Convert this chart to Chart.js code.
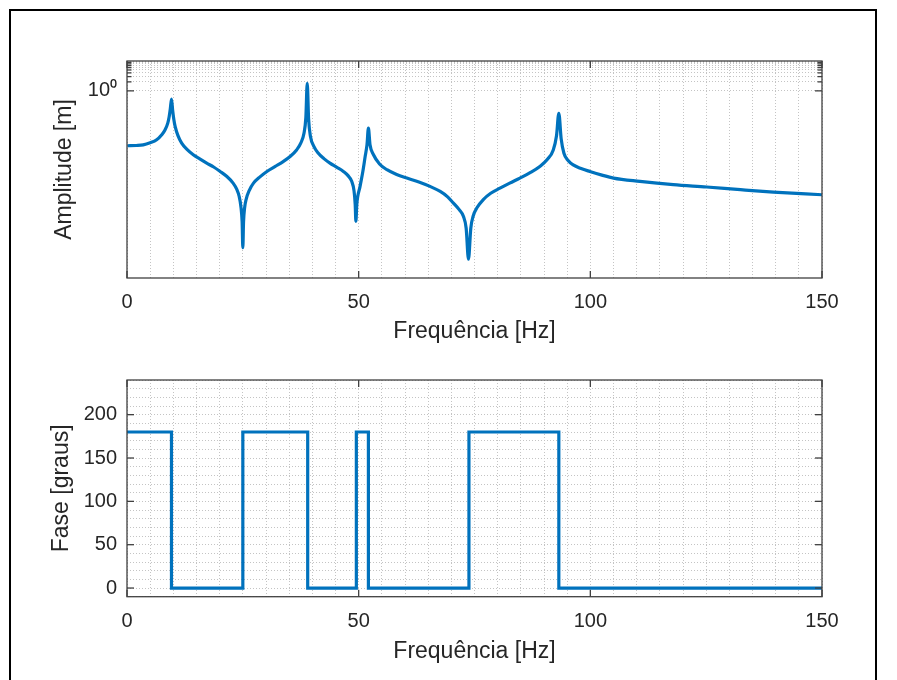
<!DOCTYPE html>
<html><head><meta charset="utf-8">
<script src="https://cdn.jsdelivr.net/npm/chart.js@4/dist/chart.umd.min.js"></script>
<style>
html,body{margin:0;padding:0;background:#fff;}
#wrap{position:relative;width:897px;height:680px;overflow:hidden;background:#fff;}
#frame{position:absolute;left:9px;top:9px;width:868px;height:800px;border:2px solid #000;box-sizing:border-box;}
canvas{position:absolute;left:0;}
</style></head><body>
<div id="wrap"><div id="frame"></div>
<canvas id="c1" style="top:0;width:897px;height:345px"></canvas>
<canvas id="c2" style="top:345px;width:897px;height:320px"></canvas>
</div>
<script>
// ---------- data ----------
const ampFreq = [0.1, 2.0, 3.5, 5.0, 6.4, 7.5, 8.2, 8.8, 9.1, 9.35, 9.6,
  9.85, 10.1, 10.4, 11.0, 11.8, 13.0, 14.3, 15.7, 17.2, 18.7, 20.1, 21.5, 22.9, 23.7, 24.2, 24.6, 24.85, 25.0,
  25.15, 25.4, 25.7, 26.4, 27.3, 28.7, 30.2, 32.0, 33.7, 35.2, 36.6, 37.5, 38.2, 38.6, 38.9,
  39.2, 39.6, 40.3, 41.3, 42.5, 43.8, 45.3, 46.7, 47.7, 48.5, 49.0, 49.25, 49.4,
  49.6, 50.3, 50.9, 51.4, 51.8, 52.1,
  52.45, 53.2, 54.5, 56.1, 58.2, 60.4, 63.0, 65.4, 67.6, 69.2, 70.4, 71.7, 72.6, 73.2, 73.7,
  74.2, 74.7, 75.6, 76.9, 78.5, 80.5, 82.6, 84.8, 87.0, 89.1, 90.7, 92.0, 92.7, 93.2,
  93.7, 94.3, 95.2, 96.3, 98.0, 99.9, 102.5, 105.0, 110.7, 117.9, 125.1, 132.4, 139.5, 150.0];
const ampValues = [1.45e-2, 1.48e-2, 1.55e-2, 1.82e-2, 2.29e-2, 3.39e-2, 4.9e-2, 8.3e-2, 0.135, 0.251, 0.525,
  0.224, 0.112, 6.31e-2, 3.16e-2, 1.78e-2, 1.07e-2, 7.24e-3, 5.25e-3, 3.8e-3, 2.82e-3, 2.0e-3, 1.38e-3, 8.13e-4, 5.01e-4, 2.95e-4, 1.26e-4, 3.98e-5, 5.62e-6,
  3.98e-5, 1.26e-4, 2.29e-4, 4.68e-4, 8.13e-4, 1.32e-3, 2.0e-3, 2.95e-3, 4.27e-3, 6.31e-3, 1.05e-2, 1.78e-2, 3.8e-2, 0.126, 1.78,
  0.112, 2.95e-2, 1.41e-2, 8.13e-3, 5.37e-3, 3.8e-3, 2.75e-3, 2.0e-3, 1.45e-3, 9.33e-4, 4.47e-4, 1.58e-4, 4.27e-5,
  1.58e-4, 6.31e-4, 2.0e-3, 6.31e-3, 1.58e-2, 5.62e-2,
  1.58e-2, 7.24e-3, 3.55e-3, 2.29e-3, 1.58e-3, 1.2e-3, 8.91e-4, 6.31e-4, 4.27e-4, 2.82e-4, 1.78e-4, 1.05e-4, 6.31e-5, 2.51e-5, 2.29e-6,
  2.51e-5, 6.31e-5, 1.26e-4, 2.29e-4, 3.72e-4, 5.5e-4, 8.13e-4, 1.2e-3, 1.82e-3, 2.95e-3, 5.01e-3, 1.05e-2, 3.16e-2, 0.178,
  2.51e-2, 8.13e-3, 4.68e-3, 3.31e-3, 2.51e-3, 2.0e-3, 1.51e-3, 1.2e-3, 9.33e-4, 7.24e-4, 6.03e-4, 4.9e-4, 4.07e-4, 3.31e-4];

const phaseFreq = [0, 9.6, 9.6, 25.0, 25.0, 39.0, 39.0, 49.5, 49.5, 52.1, 52.1, 73.8, 73.8, 93.2, 93.2, 150];
const phaseDeg  = [180, 180, 0, 0, 180, 180, 0, 0, 180, 180, 0, 0, 180, 180, 0, 0];

const xGridTicks = [0,5,10,15,20,25,30,35,40,45,50,55,60,65,70,75,80,85,90,95,100,105,110,115,120,125,130,135,140,145,150];
const xTickLabels = [0, 50, 100, 150];
const ampGridTicks = [1,2,3,4,5,6,7,8,9,10];
const ampTickLabels = [1];
const phaseGridTicks = [-10,0,10,20,30,40,50,60,70,80,90,100,110,120,130,140,150,160,170,180,190,200,210,220,230,240];
const phaseTickLabels = [0, 50, 100, 150, 200];

// ---------- styling ----------
const FONT = "'Liberation Sans', Arial, Helvetica, sans-serif";
const TXT = '#262626';
const GRID = '#c4c4c4';

const boxPlugin = {
  id: 'box',
  afterDatasetsDraw(chart, args, o) {
    const {ctx, chartArea: a, scales} = chart;
    ctx.save();
    ctx.strokeStyle = '#404040';
    ctx.lineWidth = 1.3;
    ctx.setLineDash([]);
    const tick = (x1, y1, x2, y2) => { ctx.beginPath(); ctx.moveTo(x1, y1); ctx.lineTo(x2, y2); ctx.stroke(); };
    (o.xMajor || []).forEach(v => {
      const x = scales.x.getPixelForValue(v);
      tick(x, a.bottom, x, a.bottom - 7);
      tick(x, a.top, x, a.top + 7);
    });
    (o.yMajor || []).forEach(v => {
      const y = scales.y.getPixelForValue(v);
      tick(a.left, y, a.left + 7, y);
      tick(a.right, y, a.right - 7, y);
    });
    (o.yMinor || []).forEach(v => {
      const y = scales.y.getPixelForValue(v);
      tick(a.left, y, a.left + 4.5, y);
      tick(a.right, y, a.right - 4.5, y);
    });
    ctx.strokeRect(a.left, a.top, a.right - a.left, a.bottom - a.top);
    ctx.restore();
  }
};

function xScale(height, pad) {
  return {
    type: 'linear', min: 0, max: 150,
    afterBuildTicks: s => { s.ticks = xGridTicks.map(v => ({value: v})); },
    afterFit: s => { s.height = height; },
    ticks: {autoSkip: false, maxRotation: 0, padding: pad, color: TXT,
      font: {family: FONT, size: 20},
      callback: v => xTickLabels.includes(v) ? String(v) : ''},
    grid: {color: GRID, lineWidth: 1, drawTicks: false},
    border: {display: false, dash: [1, 2]},
    title: {display: true, text: 'Frequência [Hz]', color: TXT,
      font: {family: FONT, size: 23}, padding: {top: 0, bottom: 0}}
  };
}

Chart.defaults.animation = false;

new Chart(document.getElementById('c1'), {
  type: 'line',
  data: {datasets: [{
    data: ampFreq.map((f, i) => ({x: f, y: ampValues[i]})),
    borderColor: '#0072BD', borderWidth: 3.2, pointRadius: 0,
    cubicInterpolationMode: 'monotone', borderJoinStyle: 'round'
  }]},
  options: {
    responsive: false, devicePixelRatio: 1, animation: false,
    layout: {padding: {left: 0, right: 75, top: 61, bottom: 0}},
    plugins: {legend: {display: false}, tooltip: {enabled: false},
      box: {xMajor: xTickLabels, yMajor: ampTickLabels, yMinor: [2,3,4,5,6,7,8,9]}},
    scales: {
      x: xScale(67, 12.5),
      y: {
        type: 'logarithmic', min: 5.4e-7, max: 10,
        afterBuildTicks: s => { s.ticks = ampGridTicks.map(v => ({value: v, major: v === 1})); },
        afterFit: s => { s.width = 127; },
        ticks: {autoSkip: false, padding: 10, color: TXT, font: {family: FONT, size: 20},
          callback: v => ampTickLabels.includes(v) ? '10⁰' : ''},
        grid: {color: GRID, lineWidth: 1, drawTicks: false},
        border: {display: false, dash: [1, 2]},
        title: {display: true, text: 'Amplitude [m]', color: TXT,
          font: {family: FONT, size: 23}, padding: {top: 51, bottom: 0}}
      }
    }
  },
  plugins: [boxPlugin]
});

new Chart(document.getElementById('c2'), {
  type: 'line',
  data: {datasets: [{
    data: phaseFreq.map((f, i) => ({x: f, y: phaseDeg[i]})),
    borderColor: '#0072BD', borderWidth: 3.2, pointRadius: 0, tension: 0,
    borderJoinStyle: 'miter'
  }]},
  options: {
    responsive: false, devicePixelRatio: 1, animation: false,
    layout: {padding: {left: 0, right: 75, top: 35, bottom: 0}},
    plugins: {legend: {display: false}, tooltip: {enabled: false},
      box: {xMajor: xTickLabels, yMajor: phaseTickLabels, yMinor: []}},
    scales: {
      x: xScale(68.3, 13),
      y: {
        type: 'linear', min: -10, max: 240,
        afterBuildTicks: s => { s.ticks = phaseGridTicks.map(v => ({value: v})); },
        afterFit: s => { s.width = 127; },
        ticks: {autoSkip: false, padding: 10, color: TXT, font: {family: FONT, size: 20},
          callback: v => phaseTickLabels.includes(v) ? String(v) : ''},
        grid: {color: GRID, lineWidth: 1, drawTicks: false},
        border: {display: false, dash: [1, 2]},
        title: {display: true, text: 'Fase [graus]', color: TXT,
          font: {family: FONT, size: 23}, padding: {top: 48, bottom: 0}}
      }
    }
  },
  plugins: [boxPlugin]
});
</script>
</body></html>
